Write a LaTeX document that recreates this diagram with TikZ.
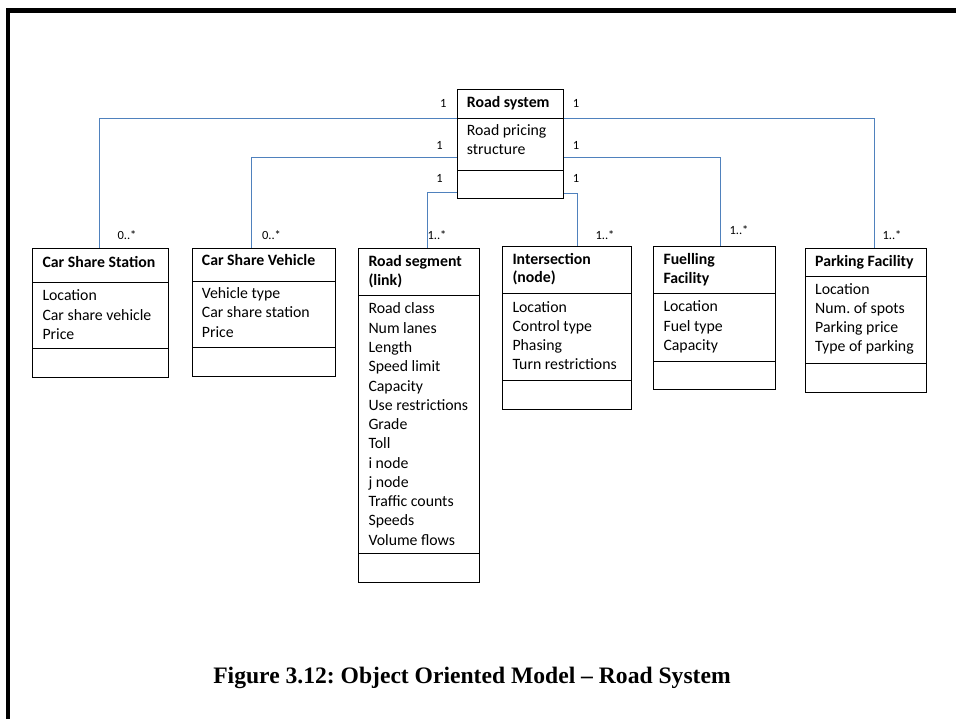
\documentclass[tikz,border=0pt]{standalone}
\usepackage{fontspec}
\setmainfont{Carlito}
\newfontfamily\capfont{Liberation Serif}
\frenchspacing
\definecolor{connblue}{RGB}{79,129,189}
\tikzset{
  box/.style={draw=black, line width=1pt, inner sep=0pt, fill=white},
  txt/.style={anchor=base west, inner sep=0pt, font=\fontsize{15.8}{19}\selectfont},
  ttl/.style={txt, font=\fontsize{15.8}{19}\selectfont\bfseries},
  mult/.style={inner sep=0pt, font=\fontsize{12.5}{14}\selectfont},
  conn/.style={draw=connblue, line width=1pt},
  capt/.style={anchor=base, inner sep=0pt, font=\capfont\bfseries\fontsize{23.6}{28}\selectfont\frenchspacing}
}
% name, x1, x2, ytop, ysep1, ysep2, ybot
\newcommand\umlbox[7]{%
  \node[box, anchor=north west, minimum width={#3pt-#2pt}, minimum height={#5pt-#4pt}] (#1-t) at (#2,#4) {};
  \node[box, anchor=north west, minimum width={#3pt-#2pt}, minimum height={#6pt-#5pt}] (#1-a) at (#2,#5) {};
  \node[box, anchor=north west, minimum width={#3pt-#2pt}, minimum height={#7pt-#6pt}] (#1-o) at (#2,#6) {};
}
% style, name, x, first baseline, leading, list
\newcommand\umllines[6]{%
  \foreach \t [count=\i from 0] in {#6} {
    \node[#1] (#2-\i) at (#3, {#4+\i*#5}) {\t};
  }
}
\begin{document}
\begin{tikzpicture}[x=1pt, y=-1pt]
\useasboundingbox (0,0) rectangle (956,719);
% page frame (top and left edges)
\fill[black] (6,8) rectangle (956,12.7);
\fill[black] (6,8) rectangle (10.3,719);

% classes
\umlbox{rs}{456.7}{563.3}{89.3}{118.3}{170}{198.3}
\umlbox{css}{32.3}{168.3}{248.3}{281.7}{348.3}{377.3}
\umlbox{csv}{191.7}{335}{247.7}{281}{347.3}{376}
\umlbox{seg}{358.3}{479.3}{247.7}{295}{553.3}{582.3}
\umlbox{int}{502.3}{630.7}{246}{293.3}{380}{409}
\umlbox{fuel}{653.3}{775}{245.7}{292.7}{361}{389.3}
\umlbox{park}{805}{926}{247.7}{276}{362.7}{391.7}

% texts
\umllines{ttl}{rsT}{466.7}{108}{19}{Road system}
\umllines{txt}{rsA}{466.7}{136}{19}{Road pricing,structure}

\umllines{ttl}{cssT}{42.3}{268}{19}{Car Share Station}
\umllines{txt}{cssA}{42.3}{300.7}{19.5}{Location,Car share vehicle,Price}

\umllines{ttl}{csvT}{201.7}{266}{19}{Car Share Vehicle}
\umllines{txt}{csvA}{201.7}{298.3}{19.4}{Vehicle type,Car share station,Price}

\umllines{ttl}{segT}{368.3}{266.7}{18.5}{Road segment,(link)}
\umllines{txt}{segA}{368.3}{314}{19.25}{Road class,Num lanes,Length,Speed limit,Capacity,Use restrictions,Grade,Toll,i node,j node,Traffic counts,Speeds,Volume flows}

\umllines{ttl}{intT}{512.3}{264.3}{18.7}{Intersection,(node)}
\umllines{txt}{intA}{512.3}{312.3}{19}{Location,Control type,Phasing,Turn restrictions}

\umllines{ttl}{fuelT}{663.3}{265}{19}{Fuelling,Facility}
\umllines{txt}{fuelA}{663.3}{312}{19}{Location,Fuel type,Capacity}

\umllines{ttl}{parkT}{815}{266.7}{19}{Parking Facility}
\umllines{txt}{parkA}{815}{295}{19}{Location,Num. of spots,Parking price,Type of parking}

% connectors
\draw[conn] (rs-a.north west) -| ([xshift=-1pt]css-t.north);
\draw[conn] (rs-a.north east) -| ([xshift=8.5pt]park-t.north);
\draw[conn] ([yshift=-12.55pt]rs-a.west) -| ([xshift=-12.65pt]csv-t.north);
\draw[conn] ([yshift=-12.55pt]rs-a.east) -| ([xshift=5.85pt]fuel-t.north);
\draw[conn] ([yshift=-8.35pt]rs-o.west) -| ([xshift=7.9pt]seg-t.north);
\draw[conn] ([yshift=-9.35pt]rs-o.east) -| ([xshift=10.5pt]int-t.north);

% multiplicities
\node[mult] (m1) at (443.3,103) {1};
\node[mult] (m2) at (576,103) {1};
\node[mult] (m3) at (439.5,145) {1};
\node[mult] (m4) at (576,145) {1};
\node[mult] (m5) at (439.5,178) {1};
\node[mult] (m6) at (576,178) {1};
\node[mult] (m7) at (127,235) {0..*};
\node[mult] (m8) at (271.5,235) {0..*};
\node[mult] (m9) at (437,235) {1..*};
\node[mult] (m10) at (605,235) {1..*};
\node[mult] (m11) at (739,230) {1..*};
\node[mult] (m12) at (892,235) {1..*};

% caption
\node[capt] (cap) at (472,683) {Figure 3.12: Object Oriented Model – Road System};
\end{tikzpicture}
\end{document}
